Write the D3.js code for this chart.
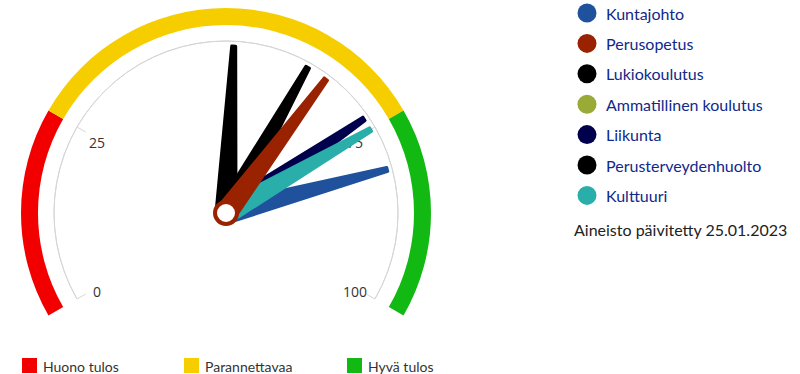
<!DOCTYPE html>
<html>
<head>
<meta charset="utf-8">
<script src="https://cdn.jsdelivr.net/npm/d3@7"></script>
<style>
  body { margin: 0; background: #fff; }
  svg { display: block; font-family: Lato, "Open Sans", sans-serif; }
</style>
</head>
<body>
<svg id="gauge" width="800" height="374"></svg>
<script>
// Data
const seriesNames = ["Kuntajohto", "Perusopetus", "Lukiokoulutus", "Ammatillinen koulutus", "Liikunta", "Perusterveydenhuolto", "Kulttuuri"];
const seriesValues = [81.2, 65.3, 51.1, null, 73.2, 62.2, 75.0];
const seriesColors = ["#1f519c", "#992200", "#000000", "#9aaa36", "#00004d", "#000000", "#2aaeaa"];
// order the needles are painted in (last on top)
const drawOrder = [0, 2, 4, 5, 6, 1];

const bandNames = ["Huono tulos", "Parannettavaa", "Hyvä tulos"];
const bandFrom = [0, 25, 75];
const bandTo = [25, 75, 100];
const bandColors = ["#f20000", "#f6ce00", "#13b913"];

const tickValues = [0, 25, 75, 100];
const updatedText = "Aineisto päivitetty 25.01.2023";

// Gauge geometry
const cx = 226, cy = 213;
const axisRadius = 172;
const needleLength = 167;

const svg = d3.select("#gauge");

// value -> angle (degrees, clockwise from up)
const angle = d3.scaleLinear().domain([0, 100]).range([-120, 120]);
const rad = (d) => (d * Math.PI) / 180;

const g = svg.append("g").attr("transform", `translate(${cx},${cy})`);

// Colour bands
const bandArc = d3.arc().innerRadius(188).outerRadius(205);
g.selectAll(".band")
  .data(bandFrom.map((f, i) => ({ from: f, to: bandTo[i], color: bandColors[i] })))
  .enter()
  .append("path")
  .attr("class", "band")
  .attr("d", (d) => bandArc({ startAngle: rad(angle(d.from)), endAngle: rad(angle(d.to)) }))
  .style("fill", (d) => d.color);

// Axis line
g.append("path")
  .attr("d", d3.arc().innerRadius(axisRadius).outerRadius(axisRadius)({ startAngle: rad(angle(0)), endAngle: rad(angle(100)) }))
  .style("fill", "none")
  .style("stroke", "#d6d6d6")
  .style("stroke-width", 1);

// Ticks
const polar = (v, r) => [r * Math.sin(rad(angle(v))), -r * Math.cos(rad(angle(v)))];
g.selectAll(".tick")
  .data(tickValues)
  .enter()
  .append("line")
  .attr("class", "tick")
  .attr("x1", (d) => polar(d, axisRadius)[0])
  .attr("y1", (d) => polar(d, axisRadius)[1])
  .attr("x2", (d) => polar(d, axisRadius - 10)[0])
  .attr("y2", (d) => polar(d, axisRadius - 10)[1])
  .style("stroke", "#d6d6d6")
  .style("stroke-width", 1);

g.selectAll(".tick-label")
  .data(tickValues)
  .enter()
  .append("text")
  .attr("class", "tick-label")
  .attr("x", (d) => polar(d, 149)[0])
  .attr("y", (d) => polar(d, 149)[1] + 6)
  .attr("text-anchor", "middle")
  .attr("dominant-baseline", "middle")
  .style("font-family", "'Open Sans', sans-serif")
  .style("font-size", "14px")
  .style("fill", "#333")
  .text((d) => d);

// Needles
const bw = 20, tw = 4;
const needlePath = `M${-bw / 2},0 L${-tw / 2},${-needleLength} L${tw / 2},${-needleLength} L${bw / 2},0 Z`;
g.selectAll(".needle")
  .data(drawOrder.filter((i) => seriesValues[i] != null))
  .enter()
  .append("path")
  .attr("class", "needle")
  .attr("d", needlePath)
  .attr("transform", (i) => `rotate(${angle(seriesValues[i])})`)
  .style("fill", (i) => seriesColors[i])
  .style("stroke", (i) => seriesColors[i])
  .style("stroke-width", 3)
  .style("stroke-linejoin", "round");

// Pivot
g.append("circle")
  .attr("r", 11)
  .style("fill", "#fff")
  .style("stroke", "#992200")
  .style("stroke-width", 4);

// Series legend
const legend = svg.append("g").attr("transform", "translate(587,13)");
const item = legend.selectAll(".legend-item")
  .data(seriesNames)
  .enter()
  .append("g")
  .attr("class", "legend-item")
  .attr("transform", (d, i) => `translate(0,${i * 30.4})`);
item.append("circle").attr("r", 9.5).style("fill", (d, i) => seriesColors[i]);
item.append("text")
  .attr("x", 19)
  .attr("dominant-baseline", "central")
  .style("font-size", "16px")
  .style("fill", "#10298a")
  .text((d) => d);

svg.append("text")
  .attr("x", 574)
  .attr("y", 229)
  .attr("dominant-baseline", "central")
  .style("font-size", "16px")
  .style("fill", "#222")
  .text(updatedText);

// Band legend
const bandX = [22, 184, 347];
const bandLegend = svg.selectAll(".band-legend")
  .data(bandNames)
  .enter()
  .append("g")
  .attr("class", "band-legend")
  .attr("transform", (d, i) => `translate(${bandX[i]},358)`);
bandLegend.append("rect").attr("width", 15).attr("height", 15).style("fill", (d, i) => bandColors[i]);
bandLegend.append("text")
  .attr("x", 21)
  .attr("y", 8)
  .attr("dominant-baseline", "central")
  .style("font-size", "14px")
  .style("fill", "#333")
  .text((d) => d);
</script>
</body>
</html>
